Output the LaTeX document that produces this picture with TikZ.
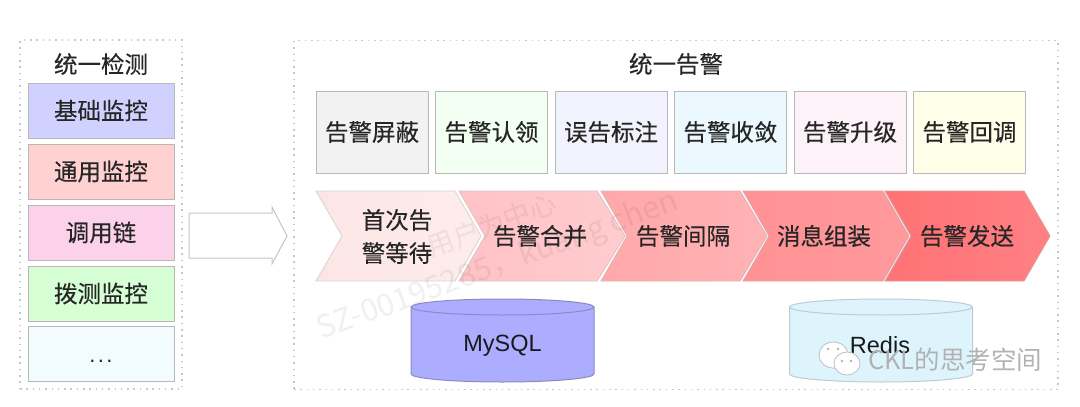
\documentclass[tikz,border=0pt]{standalone}
\usepackage{fontspec}
\setmainfont{Noto Sans CJK SC}[FakeBold=0.3]
\newfontfamily\plainf{Noto Sans CJK SC}
\newfontfamily\latinf{Liberation Sans}
\usetikzlibrary{calc}
\definecolor{ink}{HTML}{262626}
\definecolor{edge}{HTML}{B8B8B8}
\definecolor{dotc}{HTML}{C4C9CB}
\tikzset{
  x=1pt,y=-1pt,
  outer/.style={draw=dotc,line width=1.5pt,dash pattern=on 1.5pt off 4.8pt,minimum width=#1,minimum height=349pt,inner sep=0pt},
  lab/.style={text=ink,font=\fontsize{23.5}{28}\selectfont,inner sep=0pt},
  cell/.style={draw=edge,line width=1pt,fill=#1,minimum width=146pt,minimum height=55pt,inner sep=0pt,text=ink,font=\fontsize{23.5}{28}\selectfont},
  tool/.style={draw=edge,line width=1pt,fill=#1,minimum width=112pt,minimum height=82pt,inner sep=0pt,text=ink,font=\fontsize{23.5}{28}\selectfont},
  dblab/.style={text=black!90,font=\latinf\fontsize{23.5}{26}\selectfont,inner sep=0pt},
  wm/.style={text=black,opacity=.06,font=\plainf\fontsize{#1}{30}\selectfont,inner sep=0pt,rotate=20,anchor=west},
}
\newcommand{\chevron}[6]{%
  \path[left color=#4,right color=#5,draw=edge!45!#5,line width=.9pt]
    (#1,191)--(#2,191)--(#3,236)--(#2,281)--(#1,281)--(#1+26,236)--cycle;
  \coordinate (#6) at (#1+26,236);
}
\newcommand{\dbcyl}[4]{%
  \path[fill=#2,draw=#3,line width=1pt]
    (#1-91.5,307) -- (#1-91.5,374) arc[start angle=180,end angle=360,x radius=91.5,y radius=-8]
    -- (#1+91.5,307) arc[start angle=0,end angle=180,x radius=91.5,y radius=-8] -- cycle;
  \path[draw=#3,line width=1pt]
    (#1-91.5,307) arc[start angle=180,end angle=360,x radius=91.5,y radius=-8];
  \coordinate (#4) at (#1,346);
}
\begin{document}
\begin{tikzpicture}
\useasboundingbox[fill=white] (0,0) rectangle (1080,407);
\node[outer=162pt] (detect) at (101,214.5) {};
\node[outer=764pt] (alarm) at (676,215) {};
\node[lab] (t1) at (101,64) {统一检测};
\node[lab] (t2) at (676,64) {统一告警};
\node[cell=blue!18!white] (a) at (101,110.5) {基础监控};
\node[cell=red!18!white] (b) at (101,171.5) {通用监控};
\node[cell=magenta!18!white] (c) at (101,232.5) {调用链};
\node[cell=green!16!white] (d) at (101,293.5) {拨测监控};
\node[cell=cyan!5!white,font=\latinf\fontsize{22}{28}\selectfont] (e) at (101,353.5) {\smash{\raisebox{-9pt}{.\kern2.4pt.\kern2.4pt.}}};
\path[draw=gray!45,line width=1pt,fill=white]
  (189,213)--(272,213)--(272,207)--(287,236)--(272,264)--(272,258)--(189,258)--cycle;
\node[tool=gray!10] (p1) at (372,132) {告警屏蔽};
\node[tool=green!5] (p2) at (491.5,132) {告警认领};
\node[tool=blue!5] (p3) at (611,132) {误告标注};
\node[tool=cyan!8] (p4) at (730.5,132) {告警收敛};
\node[tool=magenta!5] (p5) at (850,132) {告警升级};
\node[tool=yellow!9] (p6) at (969.5,132) {告警回调};
\definecolor{c1a}{HTML}{FCE5E5}\definecolor{c1b}{HTML}{FEECEC}
\definecolor{c2a}{HTML}{FFC2C6}\definecolor{c2b}{HTML}{FFCCCE}
\definecolor{c3a}{HTML}{FFA8AA}\definecolor{c3b}{HTML}{FFB2B4}
\definecolor{c4a}{HTML}{FF9194}\definecolor{c4b}{HTML}{FF999C}
\definecolor{c5a}{HTML}{FF7275}\definecolor{c5b}{HTML}{FF8083}
\chevron{316}{455}{481}{c1a}{c1b}{s1}
\chevron{459}{597}{625}{c2a}{c2b}{s2}
\chevron{601}{740}{767}{c3a}{c3b}{s3}
\chevron{743}{883}{909}{c4a}{c4b}{s4}
\chevron{885}{1024}{1050}{c5a}{c5b}{s5}
\node[lab] (l1a) at (397,220) {首次告};
\node[lab] (l1b) at (397,253) {警等待};
\node[lab] (l2) at (540,236) {告警合并};
\node[lab] (l3) at (683,236) {告警间隔};
\node[lab] (l4) at (824,236) {消息组装};
\node[lab] (l5) at (967,236) {告警发送};
\dbcyl{502.5}{blue!32!white}{blue!30!gray!70}{m}
\dbcyl{881}{cyan!13!white}{cyan!20!gray!50}{r}
\node[dblab] (mt) at (m) {MySQL};
\node[dblab] (rt) at (880,345) {Redis};
\node[wm=27] (w1) at (428,248) {用户为中心};
\node[wm=31] (w2) at (318,332) {SZ-00195285，kuang chen};
\path[fill=white,draw=gray!50,line width=.8pt] (833.5,355) ellipse[x radius=14.5,y radius=13];
\path[fill=white,draw=gray!50,line width=.8pt] (847,363.5) ellipse[x radius=13,y radius=11.5];
\foreach \px/\py in {828/349,838/349,842/361,851/361}
  \path[fill=gray!60] (\px,\py) circle[radius=1.3];
\node[text=gray!60,font=\plainf\fontsize{25.5}{28}\selectfont,inner sep=0pt,anchor=west] (w3) at (868,360) {CKL的思考空间};
\end{tikzpicture}
\end{document}
